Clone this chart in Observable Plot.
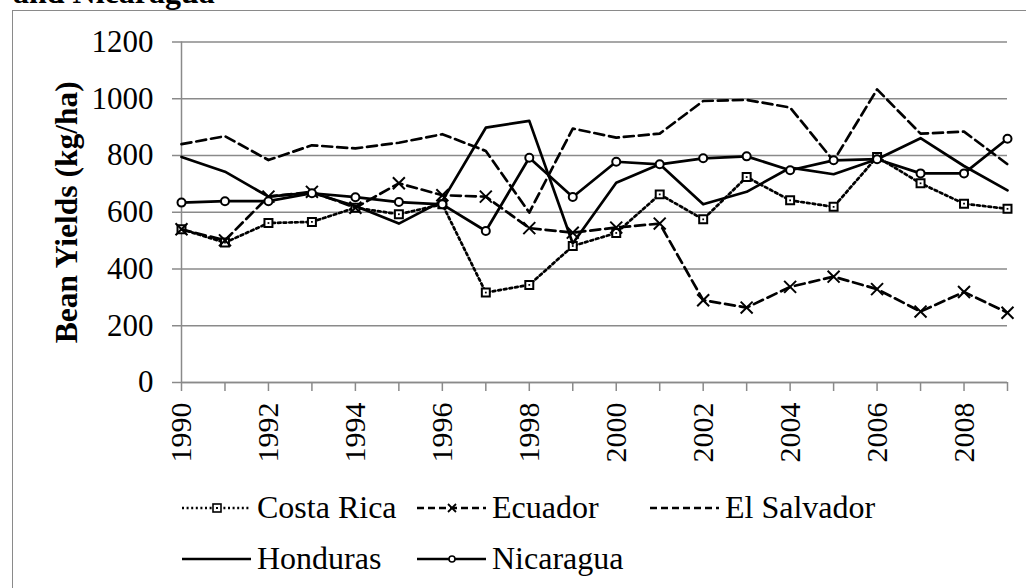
<!DOCTYPE html>
<html>
<head>
<meta charset="utf-8">
<script src="https://cdn.jsdelivr.net/npm/d3@7"></script>
<script src="https://cdn.jsdelivr.net/npm/@observablehq/plot@0.6"></script>
<style>
  html, body { margin: 0; padding: 0; background: #fff; overflow: hidden; width: 1026px; height: 588px; }
  #wrap { position: relative; width: 1026px; height: 588px; overflow: hidden; }
  #frame { position: absolute; left: 12px; top: 10px; width: 1100px; height: 700px; border: 1.5px solid #8a8a8a; box-sizing: border-box; }
  #title { position: absolute; left: 13px; top: -24px; font: bold 32px "Liberation Serif", "Times New Roman", serif; line-height: 32px; white-space: nowrap; color: #000; }
  #chart { position: absolute; left: 0; top: 0; }
  #legend { position: absolute; left: 0; top: 470px; }
</style>
</head>
<body>
<div id="wrap">
  <div id="frame"></div>
  <div id="title">and Nicaragua</div>
  <div id="chart"></div>
  <div id="legend"></div>
</div>
<script>
// ---- data ----
const years = [1990, 1991, 1992, 1993, 1994, 1995, 1996, 1997, 1998, 1999, 2000, 2001, 2002, 2003, 2004, 2005, 2006, 2007, 2008, 2009];
const costaRica  = [540, 493, 562, 566, 616, 593, 628, 317, 344, 481, 527, 663, 575, 724, 642, 619, 795, 702, 630, 612];
const ecuador    = [540, 501, 655, 672, 616, 702, 660, 655, 544, 528, 546, 560, 290, 264, 337, 373, 329, 250, 319, 246];
const elSalvador = [840, 868, 784, 836, 825, 845, 875, 816, 599, 895, 863, 877, 992, 996, 969, 781, 1033, 877, 884, 769];
const honduras   = [795, 743, 655, 669, 622, 560, 640, 898, 922, 490, 704, 769, 628, 672, 757, 734, 787, 861, 763, 677];
const nicaragua  = [634, 639, 639, 667, 653, 636, 628, 534, 792, 654, 778, 769, 790, 797, 748, 783, 787, 737, 737, 859];
const yTicks = [0, 200, 400, 600, 800, 1000, 1200];
const seriesNames = ["Costa Rica", "Ecuador", "El Salvador", "Honduras", "Nicaragua"];
const yLabel = "Bean Yields (kg/ha)";

// ---- table ----
const valuesBySeries = {"Costa Rica": costaRica, "Ecuador": ecuador, "El Salvador": elSalvador, "Honduras": honduras, "Nicaragua": nicaragua};
const rows = seriesNames.flatMap(s => years.map((yr, i) => ({series: s, year: yr, value: valuesBySeries[s][i]})));
const of = s => rows.filter(d => d.series === s);

const serif = "'Liberation Serif', 'Times New Roman', serif";
const grey = "#8a8a8a";
const lw = 2.7;
const styles = {
  "Costa Rica": {dash: "2.7,3"},
  "Ecuador": {dash: "10,5"},
  "El Salvador": {dash: "10,5"},
  "Honduras": {dash: null},
  "Nicaragua": {dash: null}
};

const lineMark = s => Plot.line(of(s), {x: "year", y: "value", stroke: "black", strokeWidth: lw,
  strokeDasharray: styles[s].dash || undefined, strokeLinejoin: "round"});

const marks = [
  Plot.gridY(yTicks, {stroke: grey, strokeOpacity: 1, strokeWidth: 1.5}),
  Plot.axisY(yTicks, {tickSize: 9, tickPadding: 19, stroke: grey, strokeWidth: 1.5, fill: "black", label: null, fontSize: 31,
    tickFormat: d => String(d)}),
  Plot.ruleX([1990], {y1: 0, y2: 1200, stroke: grey, strokeWidth: 1.5}),
  Plot.axisX(years, {tickSize: 9, tickPadding: 11, tickRotate: -90, stroke: grey, strokeWidth: 1.5, fill: "black", label: null, fontSize: 30,
    tickFormat: d => d % 2 === 0 ? String(d) : ""}),
  Plot.ruleY([0], {stroke: grey, strokeWidth: 1.5}),
  Plot.text([yLabel], {frameAnchor: "left", textAnchor: "middle", dx: -115, rotate: -90, fontWeight: "bold", fontSize: 31.5, fill: "black"}),
  // Costa Rica
  lineMark("Costa Rica"),
  Plot.dot(of("Costa Rica"), {x: "year", y: "value", symbol: "square", r: 4.5, stroke: "black", strokeWidth: 2, fill: "white"}),
  Plot.dot(of("Costa Rica"), {x: "year", y: "value", symbol: "square", r: 1, fill: "black"}),
  // Ecuador
  lineMark("Ecuador"),
  Plot.dot(of("Ecuador"), {x: "year", y: "value", symbol: "times", r: 5.5, stroke: "black", strokeWidth: 2}),
  // El Salvador
  lineMark("El Salvador"),
  // Honduras
  lineMark("Honduras"),
  // Nicaragua
  lineMark("Nicaragua"),
  Plot.dot(of("Nicaragua"), {x: "year", y: "value", symbol: "circle", r: 4, stroke: "black", strokeWidth: 2, fill: "white"})
];

const chart = Plot.plot({
  width: 1026,
  height: 470,
  marginLeft: 181,
  marginRight: 19,
  marginTop: 41.5,
  marginBottom: 88,
  x: {domain: [1990, 2009]},
  y: {domain: [0, 1200]},
  style: {fontFamily: serif, fontSize: "32px", color: "black", background: "transparent", overflow: "visible"},
  marks
});
document.getElementById("chart").appendChild(chart);

// ---- legend ----
const legendItems = [
  {name: "Costa Rica", x: 182, y: 48, marker: "square"},
  {name: "Ecuador", x: 417, y: 48, marker: "times"},
  {name: "El Salvador", x: 650, y: 48, marker: null},
  {name: "Honduras", x: 182, y: 99, marker: null},
  {name: "Nicaragua", x: 417, y: 99, marker: "circle"}
];
const svg = d3.select("#legend").append("svg").attr("width", 1026).attr("height", 118);
for (const it of legendItems) {
  const g = svg.append("g").attr("transform", `translate(${it.x},${it.y - 10})`);
  const ln = g.append("line").attr("x1", 0).attr("x2", 69).attr("y1", 0).attr("y2", 0)
    .attr("stroke", "black").attr("stroke-width", 2.5);
  if (styles[it.name].dash) ln.attr("stroke-dasharray", it.name === "Costa Rica" ? "2,2.6" : "7,4");
  if (it.marker === "square") {
    g.append("rect").attr("x", 31).attr("y", -4).attr("width", 8).attr("height", 8).attr("fill", "white").attr("stroke", "black").attr("stroke-width", 1.6);
    g.append("rect").attr("x", 34).attr("y", -1).attr("width", 2).attr("height", 2).attr("fill", "black");
  } else if (it.marker === "times") {
    g.append("path").attr("d", "M31,-4L39,4M31,4L39,-4").attr("stroke", "black").attr("stroke-width", 1.8);
  } else if (it.marker === "circle") {
    g.append("circle").attr("cx", 35).attr("cy", 0).attr("r", 3).attr("fill", "white").attr("stroke", "black").attr("stroke-width", 1.6);
  }
  svg.append("text").attr("x", it.x + 75).attr("y", it.y)
    .attr("font-family", serif).attr("font-size", 32).attr("fill", "black")
    .text(it.name);
}
</script>
</body>
</html>
